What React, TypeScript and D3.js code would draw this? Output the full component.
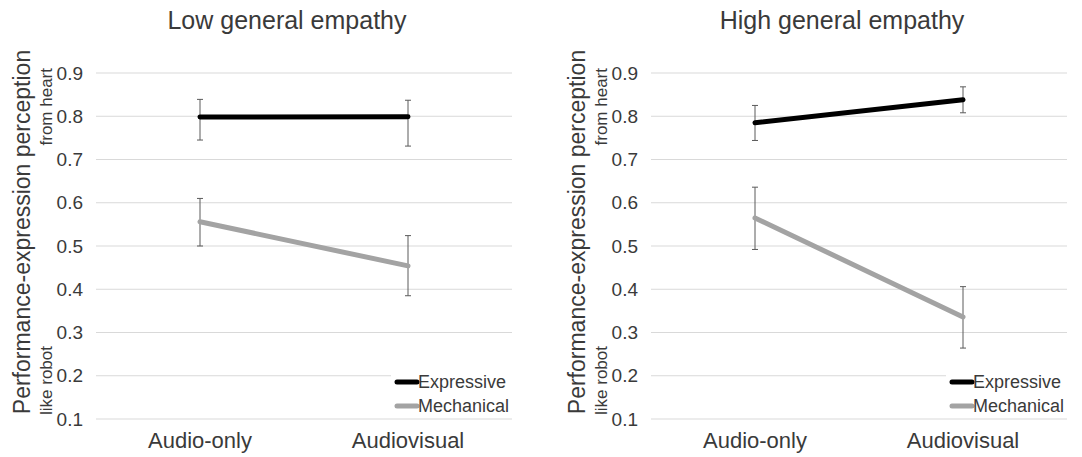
import React from 'react';
import * as d3 from 'd3';

// conditions on the x axis
const categories = ['Audio-only', 'Audiovisual'];
const panelTitles = ['Low general empathy', 'High general empathy'];
const seriesNames = ['Expressive', 'Mechanical'];
const yTicks = [0.1, 0.2, 0.3, 0.4, 0.5, 0.6, 0.7, 0.8, 0.9];

// low empathy
const lowExpressive = [0.798, 0.799];
const lowExpressiveLo = [0.745, 0.731];
const lowExpressiveHi = [0.839, 0.837];
const lowMechanical = [0.556, 0.454];
const lowMechanicalLo = [0.5, 0.385];
const lowMechanicalHi = [0.61, 0.524];

// high empathy
const highExpressive = [0.785, 0.838];
const highExpressiveLo = [0.744, 0.808];
const highExpressiveHi = [0.825, 0.868];
const highMechanical = [0.565, 0.336];
const highMechanicalLo = [0.492, 0.264];
const highMechanicalHi = [0.636, 0.406];

const colors = ['#000000', '#a3a3a3'];
const font = '"Liberation Sans", Arial, Helvetica, sans-serif';
const textColor = '#3a3a3a';

type Series = { values: number[]; lo: number[]; hi: number[] };

const panelData: Series[][] = [
  [
    { values: lowExpressive, lo: lowExpressiveLo, hi: lowExpressiveHi },
    { values: lowMechanical, lo: lowMechanicalLo, hi: lowMechanicalHi },
  ],
  [
    { values: highExpressive, lo: highExpressiveLo, hi: highExpressiveHi },
    { values: highMechanical, lo: highMechanicalLo, hi: highMechanicalHi },
  ],
];

const y = d3.scaleLinear().domain([0.1, 0.9]).range([419, 73]);

const Panel = ({ idx, x0 }: { idx: number; x0: number }) => {
  const plotW = 416;
  const x = d3.scaleBand().domain(categories).range([x0, x0 + plotW]).padding(0);
  const cx = (c: string) => (x(c) as number) + x.bandwidth() / 2;
  const line = d3
    .line<number>()
    .x((_, i) => cx(categories[i]))
    .y((d) => y(d));
  const series = panelData[idx];
  const legX = x0 + 299;
  const titleX = x0 + 191;

  return (
    <g>
      <text x={titleX} y={29} textAnchor="middle" fontSize={25} fill={textColor}>
        {panelTitles[idx]}
      </text>

      {yTicks.map((t) => (
        <g key={t}>
          <line x1={x0} x2={x0 + plotW} y1={y(t)} y2={y(t)} stroke="#d9d9d9" strokeWidth={1} />
          <text x={x0 - 13} y={y(t)} dy="0.35em" textAnchor="end" fontSize={19} fill={textColor}>
            {t.toFixed(1)}
          </text>
        </g>
      ))}

      {categories.map((c) => (
        <text key={c} x={cx(c)} y={448} textAnchor="middle" fontSize={22} fill={textColor}>
          {c}
        </text>
      ))}

      <text transform={`translate(${x0 - 66},232) rotate(-90)`} textAnchor="middle" fontSize={23} fill={textColor}>
        Performance-expression perception
      </text>
      <text transform={`translate(${x0 - 44},68) rotate(-90)`} textAnchor="end" fontSize={17} fill={textColor}>
        from heart
      </text>
      <text transform={`translate(${x0 - 44},415) rotate(-90)`} textAnchor="start" fontSize={17} fill={textColor}>
        like robot
      </text>

      {/* legend box hides the grid */}
      <rect x={legX - 4} y={368} width={plotW - 295} height={47} fill="#fff" />

      {series.map((s, si) => (
        <g key={si}>
          {categories.map((c, i) => (
            <g key={c} stroke="#5a5a5a" strokeWidth={1}>
              <line x1={cx(c)} x2={cx(c)} y1={y(s.hi[i])} y2={y(s.lo[i])} />
              <line x1={cx(c) - 3} x2={cx(c) + 3} y1={y(s.hi[i])} y2={y(s.hi[i])} />
              <line x1={cx(c) - 3} x2={cx(c) + 3} y1={y(s.lo[i])} y2={y(s.lo[i])} />
            </g>
          ))}
          <path d={line(s.values) || ''} fill="none" stroke={colors[si]} strokeWidth={5} strokeLinecap="round" />
        </g>
      ))}

      {seriesNames.map((n, i) => (
        <g key={n}>
          <line
            x1={legX + 2}
            x2={legX + 22}
            y1={382 + i * 24}
            y2={382 + i * 24}
            stroke={colors[i]}
            strokeWidth={5}
            strokeLinecap="round"
          />
          <text x={legX + 23} y={382 + i * 24} dy="0.35em" fontSize={18} fill={textColor}>
            {n}
          </text>
        </g>
      ))}
    </g>
  );
};

export default function App() {
  return (
    <svg
      width={1082}
      height={457}
      style={{ position: 'absolute', left: 0, top: 0, background: '#fff', fontFamily: font }}
    >
      <Panel idx={0} x0={96} />
      <Panel idx={1} x0={651} />
    </svg>
  );
}
